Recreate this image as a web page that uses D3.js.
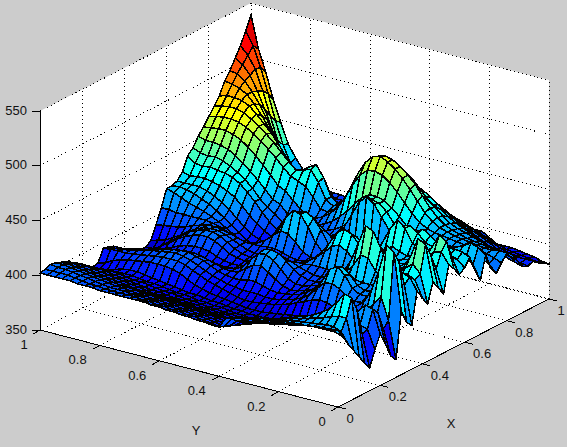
<!DOCTYPE html>
<html><head><meta charset="utf-8">
<script src="https://cdn.jsdelivr.net/npm/d3@7"></script>
<style>html,body{margin:0;padding:0;background:#ccc;overflow:hidden}svg{display:block}text{font-family:"Liberation Sans",Arial,sans-serif;font-size:13px;fill:#111}</style>
</head><body><svg id="c" width="567" height="447"></svg>
<script>
const xTicks=[0,0.2,0.4,0.6,0.8,1];
const yTicks=[0,0.2,0.4,0.6,0.8,1];
const zTicks=[350,400,450,500,550];
const xTitle="X", yTitle="Y";
// rows: x = i/40, columns: y = j/40
const surfaceZ=[
[420,419,419,418,417,416,415,414,414,413,411,410,409,408,406,405,395,395,396,396,397,397,398,398,399,399,400,400,400,400,400,400,400,401,401,401,402,402,402,402,402],
[411,414,414,414,414,413,413,412,412,411,410,409,408,406,404,402,393,392,393,394,395,395,396,396,397,397,398,398,399,399,399,399,399,400,400,401,402,403,403,403,403],
[402,412,415,415,414,413,412,411,410,409,408,406,404,402,400,397,391,390,391,392,393,393,394,394,395,395,396,396,397,397,398,398,398,399,400,401,402,403,404,404,405],
[394,422,422,420,417,415,413,411,410,408,406,403,401,398,396,394,389,388,389,390,391,391,392,392,393,393,394,394,395,395,396,397,397,398,399,400,401,402,403,404,404],
[386,438,440,430,423,418,414,411,409,406,404,401,398,395,393,391,387,386,387,388,389,389,390,390,391,391,392,392,393,393,394,395,395,396,397,398,399,400,401,402,402],
[378,425,428,421,416,412,408,405,403,401,399,396,394,392,390,389,385,384,385,386,386,387,387,388,388,389,389,390,390,391,391,392,393,394,395,396,397,398,399,400,400],
[371,400,410,408,405,402,400,398,397,395,393,392,390,388,387,386,383,382,382,383,384,384,385,385,386,386,387,387,388,388,389,390,391,392,393,394,395,396,397,397,397],
[385,402,404,402,400,398,396,394,393,391,390,388,387,386,384,383,381,380,380,381,382,382,383,383,384,384,385,385,386,387,387,388,389,390,391,392,393,394,394,394,394],
[397,418,420,412,404,399,396,394,392,390,388,387,385,384,382,381,379,378,378,379,380,380,381,381,382,383,383,384,385,385,386,387,388,388,389,390,391,391,390,389,389],
[385,412,415,408,401,397,394,392,390,388,386,385,383,382,381,380,378,377,377,378,378,379,380,380,381,381,382,383,383,384,385,386,386,387,388,388,388,387,386,385,385],
[372,395,402,400,396,393,391,389,387,385,384,383,382,381,380,379,378,377,377,377,378,378,379,380,380,381,382,382,383,384,385,386,387,388,389,389,388,386,384,383,383],
[366,400,420,412,404,399,395,392,390,388,387,386,384,383,382,381,380,379,378,378,378,379,380,381,382,383,385,387,390,394,396,397,397,397,396,395,394,392,390,386,384],
[408,460,465,440,420,408,402,398,396,396,398,399,397,394,391,388,386,384,383,382,381,381,382,384,386,388,390,393,396,399,401,401,401,400,399,398,397,396,396,396,395],
[395,448,452,430,415,407,403,402,404,410,413,412,405,398,393,390,388,386,385,385,386,386,386,387,388,390,392,395,398,401,403,404,403,402,401,400,398,396,395,394,394],
[390,425,430,422,414,409,406,406,410,420,426,422,410,401,396,392,390,389,388,389,391,393,393,391,391,392,394,397,400,402,404,404,403,402,400,398,396,394,393,392,392],
[419,430,432,424,416,411,408,407,410,418,423,420,409,401,396,393,391,390,392,396,401,405,404,399,394,393,394,396,398,400,401,401,400,399,397,395,393,391,390,389,388],
[410,425,428,422,416,412,410,410,410,411,412,411,406,401,397,395,393,393,396,403,409,413,412,405,397,393,392,392,393,394,395,395,394,393,392,390,388,386,386,385,385],
[402,428,435,430,423,417,414,420,430,431,420,412,405,400,397,396,396,398,402,408,413,415,413,405,396,391,389,388,388,389,390,391,391,391,390,388,386,384,383,383,382],
[420,452,456,438,426,420,425,438,452,455,438,420,408,402,399,398,398,400,402,405,407,407,405,400,394,391,389,389,390,392,395,396,396,395,393,390,387,384,382,381,380],
[412,440,445,432,424,420,422,430,438,440,428,415,408,404,403,403,403,403,402,402,401,400,398,396,393,392,391,392,394,398,402,404,404,402,399,395,390,386,381,378,377],
[404,425,430,424,420,418,418,420,422,422,418,414,414,420,424,421,414,408,403,399,397,396,395,394,393,392,392,393,396,400,404,406,406,404,401,396,391,386,380,377,376],
[428,438,436,430,423,420,418,418,418,416,414,416,425,433,436,431,420,410,403,398,395,394,394,394,394,393,393,394,397,400,403,405,405,404,401,397,392,388,384,382,380],
[422,445,449,436,426,422,420,418,417,416,414,415,422,428,430,425,416,408,402,397,394,393,394,396,398,398,397,397,397,399,401,403,404,404,402,400,397,395,394,393,392],
[414,428,432,428,424,422,420,419,421,424,420,415,413,413,413,411,407,403,399,396,395,398,405,411,412,406,400,396,394,393,395,398,401,403,404,404,404,404,404,405,405],
[418,424,426,426,425,424,424,428,440,446,436,422,412,407,404,401,399,397,396,398,406,418,428,430,422,408,398,392,388,388,390,394,398,402,405,408,410,412,415,418,420],
[425,428,429,428,426,426,428,435,440,438,428,418,410,405,402,399,397,396,398,404,415,424,428,426,416,405,396,390,386,386,388,393,398,403,408,412,415,418,420,421,420],
[410,422,424,424,424,426,432,436,432,425,418,412,407,403,401,398,397,397,399,405,411,416,416,413,406,400,394,389,387,388,391,396,402,408,413,417,420,422,422,422,422],
[399,412,416,418,419,420,423,425,423,419,414,410,406,404,402,400,398,398,398,400,403,405,405,403,400,397,393,390,390,393,398,404,411,417,421,424,426,427,427,426,428],
[420,425,427,423,420,418,418,418,417,415,412,410,412,420,430,440,445,438,425,412,404,400,398,396,395,393,392,392,394,399,406,414,421,427,431,433,434,435,434,435,440],
[405,418,420,417,415,414,414,414,414,413,412,412,415,423,432,438,440,435,425,415,408,404,401,399,397,396,395,395,398,404,408,414,422,428,433,437,440,442,441,442,445],
[398,405,408,410,411,412,412,413,413,413,414,416,420,427,433,438,440,440,436,428,420,413,407,403,400,398,398,399,403,410,413,420,427,433,439,444,448,450,451,451,453],
[405,408,410,411,412,413,414,415,416,417,419,423,429,437,445,452,457,459,458,452,441,428,417,410,405,402,403,407,413,420,423,431,438,445,451,456,459,461,461,460,459],
[412,412,411,411,412,413,414,415,417,419,423,429,438,447,455,462,467,470,468,461,449,434,421,412,407,408,417,425,428,431,437,444,450,456,461,465,468,469,469,468,466],
[408,408,408,409,410,411,412,414,416,419,424,431,440,449,456,462,466,468,466,460,449,436,424,414,410,414,428,438,436,434,440,447,454,460,465,470,474,476,476,475,473],
[400,402,403,405,407,409,411,413,415,418,423,429,434,442,449,454,457,458,456,451,445,434,423,414,410,414,430,440,436,428,430,440,449,458,465,472,478,481,482,482,480],
[392,394,396,398,401,404,407,410,413,416,420,425,427,433,438,441,442,442,441,438,437,429,420,412,406,407,416,424,422,414,410,420,433,447,458,468,477,484,488,490,491],
[390,391,392,393,395,398,402,405,409,412,416,420,425,430,434,437,438,438,436,433,428,422,415,408,403,400,402,406,405,402,401,403,414,430,447,462,474,484,492,497,498],
[392,392,392,392,393,395,399,402,405,408,411,414,418,421,424,426,427,427,426,424,420,416,410,405,400,397,397,398,398,399,400,401,406,416,432,450,467,482,495,503,507],
[388,388,388,389,390,392,395,398,401,404,406,409,412,414,416,418,419,419,418,416,413,410,406,402,398,396,395,395,396,397,398,400,404,409,420,438,459,480,498,509,516],
[385,385,386,387,388,389,391,393,396,399,401,404,406,408,410,411,412,412,411,409,407,404,402,399,397,395,395,395,395,396,397,399,403,407,417,432,452,475,497,515,527],
[382,383,385,386,387,388,388,388,392,396,396,397,397,403,407,410,412,412,410,408,405,402,400,398,396,395,395,395,396,396,397,402,406,410,419,430,448,467,490,510,539]
];
const yEdge=[402,403,405,404,402,400,397,394,389,385,383,384,395,394,392,388,385,382,380,377,376,380,392,405,420,420,422,428,440,445,453,459,466,473,480,491,498,507,516,527,539];
surfaceZ.forEach((r,i)=>{r[40]=yEdge[i]});

const svg=d3.select("#c");
const sxX=d3.scaleLinear().domain([0,1]).range([0,211]);
const syX=d3.scaleLinear().domain([0,1]).range([0,-108]);
const sxY=d3.scaleLinear().domain([0,1]).range([0,-298]);
const syY=d3.scaleLinear().domain([0,1]).range([0,-77]);
const zS=d3.scaleLinear().domain([350,550]).range([0,-219]);
const P=(x,y,z)=>[338+sxX(x)+sxY(y),407+syX(x)+syY(y)+zS(z)];
const poly=pts=>{const p=d3.path();pts.forEach((q,k)=>k?p.lineTo(q[0],q[1]):p.moveTo(q[0],q[1]));p.closePath();return p.toString()};
const seg=(a,b)=>{const p=d3.path();p.moveTo(a[0],a[1]);p.lineTo(b[0],b[1]);return p.toString()};
svg.append("path").attr("d",poly([P(0,1,350),P(0,1,550),P(1,1,550),P(1,0,550),P(1,0,350),P(0,0,350)])).attr("fill","#fff");
const grid=svg.append("g").attr("fill","none").attr("stroke","#000").attr("stroke-dasharray","1,3").attr("shape-rendering","crispEdges");
const gl=(a,b)=>grid.append("path").attr("d",seg(a,b));
xTicks.forEach(x=>{if(x>0)gl(P(x,1,350),P(x,1,550));if(x>0)gl(P(x,0,350),P(x,1,350));});
yTicks.forEach(y=>{gl(P(1,y,350),P(1,y,550));if(y>0)gl(P(0,y,350),P(1,y,350));});
zTicks.forEach(z=>{gl(P(0,1,z),P(1,1,z));gl(P(1,1,z),P(1,0,z));});
const flat=surfaceZ.flat();
const [zMin,zMax]=d3.extent(flat);
const jetStops=[[0,0,143],[0,0,255],[0,255,255],[255,255,0],[255,0,0],[128,0,0]];
const jetPos=[0,0.111,0.365,0.619,0.873,1];
const jet=d3.scaleLinear().domain(jetPos).range(jetStops.map(c=>d3.rgb(...c))).clamp(true);
const level=d3.scaleQuantize().domain([zMin,zMax]).range(d3.range(64).map(k=>k/63));
const n=surfaceZ.length-1;
const g=svg.append("g").attr("stroke","#000").attr("stroke-width",1.5).attr("stroke-linejoin","round").attr("shape-rendering","crispEdges");
const cells=[];
for(let i=n-1;i>=0;i--)for(let j=n-1;j>=0;j--)cells.push([i,j]);
g.selectAll("path").data(cells).join("path")
 .attr("d",([i,j])=>poly([[i,j],[i+1,j],[i+1,j+1],[i,j+1]].map(([a,b])=>P(a/n,b/n,surfaceZ[a][b]))))
 .attr("fill",([i,j])=>jet(level((surfaceZ[i][j]+surfaceZ[i+1][j]+surfaceZ[i][j+1]+surfaceZ[i+1][j+1])/4)));
const ax=svg.append("g").attr("stroke","#000").attr("fill","none").attr("shape-rendering","crispEdges");
ax.append("path").attr("d",seg(P(0,1,350),P(0,1,550)));
ax.append("path").attr("d",seg(P(0,1,350),P(0,0,350)));
ax.append("path").attr("d",seg(P(0,0,350),P(1,0,350)));
zTicks.forEach(z=>{const a=P(0,1,z);ax.append("path").attr("d",seg([a[0]-8,a[1]],a));
 svg.append("text").attr("x",a[0]-13).attr("y",a[1]-1).attr("dy","0.35em").attr("text-anchor","end").text(z);});
yTicks.forEach(y=>{const a=P(0,y,350);ax.append("path").attr("d",seg(a,[a[0]-7,a[1]+4]));
 const t=String(y);svg.append("text").attr("x",a[0]+(t.length>1?-22:-16)).attr("y",a[1]+14.5).attr("dy","0.35em").attr("text-anchor","middle").text(t);});
xTicks.forEach(x=>{const a=P(x,0,350);ax.append("path").attr("d",seg(a,[a[0]+8,a[1]+2]));
 const t=String(x);svg.append("text").attr("x",a[0]+(t.length>1?17.5:12)).attr("y",a[1]+11.5).attr("dy","0.35em").attr("text-anchor","middle").text(t);});
svg.append("text").attr("x",196).attr("y",430).attr("dy","0.35em").attr("text-anchor","middle").text(yTitle);
svg.append("text").attr("x",451).attr("y",423).attr("dy","0.35em").attr("text-anchor","middle").text(xTitle);
</script></body></html>
